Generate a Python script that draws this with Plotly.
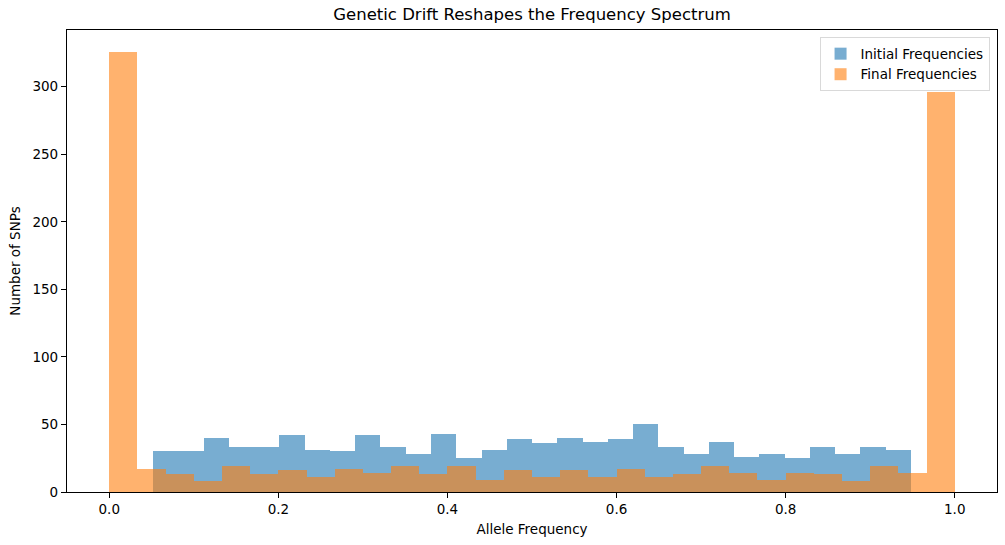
import numpy as np
import plotly.graph_objects as go

# histogram counts
init_lo, init_hi = 0.052, 0.948
init_counts = [30, 30, 40, 33, 33, 42, 31, 30, 42, 33,
               28, 43, 25, 31, 39, 36, 40, 37, 39, 50,
               33, 28, 37, 26, 28, 25, 33, 28, 33, 31]

final_lo, final_hi = 0.0, 1.0
final_counts = [326, 17, 13, 8, 19, 13, 16, 11, 17, 14,
                19, 13, 19, 9, 16, 11, 16, 11, 17, 11,
                13, 19, 14, 9, 14, 13, 8, 19, 14, 296]

x_ticks = [0.0, 0.2, 0.4, 0.6, 0.8, 1.0]
y_ticks = [0, 50, 100, 150, 200, 250, 300]


def bins(lo, hi, counts):
    edges = np.linspace(lo, hi, len(counts) + 1)
    return (edges[:-1] + edges[1:]) / 2, edges[1] - edges[0]


fig = go.Figure()

xc, w = bins(init_lo, init_hi, init_counts)
fig.add_trace(go.Bar(
    name='Initial Frequencies',
    x=xc, y=init_counts, width=w,
    marker=dict(color='#1f77b4', line=dict(width=0)),
    opacity=0.6
))

xc, w = bins(final_lo, final_hi, final_counts)
fig.add_trace(go.Bar(
    name='Final Frequencies',
    x=xc, y=final_counts, width=w,
    marker=dict(color='#ff7f0e', line=dict(width=0)),
    opacity=0.6
))

axis_style = dict(
    showline=True, linecolor='black', linewidth=1.2, mirror=True,
    ticks='outside', ticklen=5, tickcolor='black', showgrid=False,
    zeroline=False, tickfont=dict(size=13.5, color='black'),
)

fig.update_layout(
    width=1005, height=545,
    margin=dict(l=67, r=8, t=30, b=53),
    barmode='overlay', bargap=0,
    paper_bgcolor='white', plot_bgcolor='white',
    font=dict(family='DejaVu Sans', color='black'),
    title=dict(text='Genetic Drift Reshapes the Frequency Spectrum',
               x=(67 + 997) / 2 / 1005, xanchor='center',
               y=1 - 14 / 545, yanchor='middle',
               font=dict(size=16.5, color='black')),
    xaxis=dict(axis_style, range=[-0.05, 1.05], tickvals=x_ticks,
               tickformat='.1f',
               title=dict(text='Allele Frequency', font=dict(size=13.5), standoff=8)),
    yaxis=dict(axis_style, range=[0, 342], tickvals=y_ticks,
               title=dict(text='Number of SNPs', font=dict(size=13.5), standoff=8)),
    legend=dict(x=0.992, y=0.984, xanchor='right', yanchor='top',
                bgcolor='rgba(255,255,255,0.8)', bordercolor='#d9d9d9',
                borderwidth=1, font=dict(size=13.5)),
)

# the page body has an 8px default margin; drop it so the figure fills the window
fig.write_html("out.html", config={'displayModeBar': False},
               post_script="document.body.style.margin='0px';")
